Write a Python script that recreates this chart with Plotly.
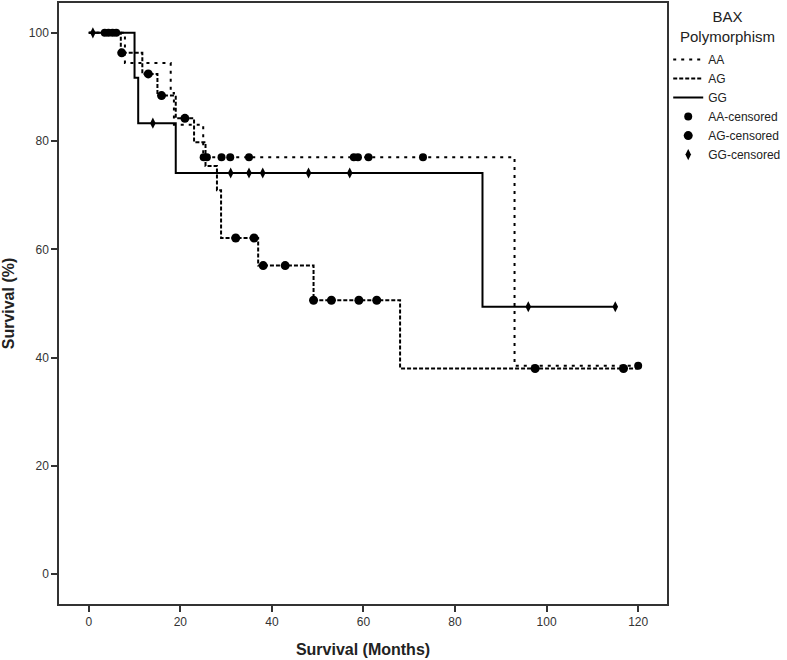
import plotly.graph_objects as go

# Step-function data (months, survival %)
aa_t = [0, 7.9, 17.9, 18.6, 25.0, 93, 120]
aa_s = [100, 94.4, 88.9, 83.0, 77.0, 38.5, 38.5]

ag_t = [0, 7, 11.7, 15, 19, 23, 25.5, 28, 28.9, 37, 49.1, 68, 120]
ag_s = [100, 96.3, 92.4, 88.4, 84.2, 79.8, 75.4, 70.9, 62.1, 57.0, 50.6, 38.0, 38.0]

gg_t = [0, 10, 10.8, 19, 86, 115]
gg_s = [100, 91.7, 83.3, 74.1, 49.4, 49.4]

# Censored times
aa_cens = [3.5, 4.3, 5.2, 6.0, 25.1, 25.8, 29.0, 30.9, 35.0, 57.9, 58.8, 61.1, 73, 120]
ag_cens = [7.2, 13, 15.9, 21, 32.1, 36.1, 38.1, 42.9, 49.1, 53, 59, 62.9, 97.5, 116.8]
gg_cens = [0.9, 14, 31, 35, 38, 48, 57, 96, 115]

x_ticks = [0, 20, 40, 60, 80, 100, 120]
y_ticks = [0, 20, 40, 60, 80, 100]


def surv_at(ts, ss, t):
    v = ss[0]
    for ti, si in zip(ts, ss):
        if ti <= t:
            v = si
    return v


FONT = "Arial, Liberation Sans, sans-serif"
fig = go.Figure()

fig.add_trace(go.Scatter(x=aa_t, y=aa_s, mode="lines", name="AA",
                         line=dict(color="black", width=2, dash="3px,5px", shape="hv")))
fig.add_trace(go.Scatter(x=ag_t, y=ag_s, mode="lines", name="AG",
                         line=dict(color="black", width=2, dash="4px,2px", shape="hv")))
fig.add_trace(go.Scatter(x=gg_t, y=gg_s, mode="lines", name="GG",
                         line=dict(color="black", width=2, shape="hv")))

fig.add_trace(go.Scatter(x=aa_cens, y=[surv_at(aa_t, aa_s, t) for t in aa_cens],
                         mode="markers", name="AA-censored",
                         marker=dict(symbol="circle", size=8, color="black")))
fig.add_trace(go.Scatter(x=ag_cens, y=[surv_at(ag_t, ag_s, t) for t in ag_cens],
                         mode="markers", name="AG-censored",
                         marker=dict(symbol="circle", size=9, color="black")))
fig.add_trace(go.Scatter(x=gg_cens, y=[surv_at(gg_t, gg_s, t) for t in gg_cens],
                         mode="markers", name="GG-censored",
                         marker=dict(symbol="diamond-tall", size=8, color="black")))

axis_common = dict(showline=True, linecolor="#333", linewidth=1.5, mirror=True,
                   ticks="outside", ticklen=6, tickcolor="#333", tickwidth=1.5,
                   showgrid=False, zeroline=False,
                   tickfont=dict(family=FONT, size=12, color="#333"))

fig.update_layout(
    width=787, height=660,
    margin=dict(l=59, r=114, t=1, b=56),
    plot_bgcolor="white", paper_bgcolor="white",
    font=dict(family=FONT, color="#222"),
    xaxis=dict(range=[-6.5, 126.3], tickvals=x_ticks,
               title=dict(text="<b>Survival (Months)</b>", font=dict(size=16, family=FONT, color="#222"), standoff=16),
               **axis_common),
    yaxis=dict(range=[-5.5, 105.5], tickvals=y_ticks,
               title=dict(text="<b>Survival (%)</b>", font=dict(size=16, family=FONT, color="#222"), standoff=12),
               **axis_common),
    legend=dict(x=1.002, xanchor="left", y=0.93, yanchor="top",
                font=dict(size=12, family=FONT, color="#222"),
                itemwidth=30, tracegroupgap=0, bgcolor="rgba(0,0,0,0)"),
    showlegend=True,
    annotations=[dict(text="BAX<br>Polymorphism", xref="paper", yref="paper",
                      x=1.1, y=0.995, xanchor="center", yanchor="top", align="center",
                      showarrow=False, font=dict(size=15, family=FONT, color="#222"))],
)

fig.write_html("out.html", config={"displayModeBar": False},
               post_script="document.body.style.margin='0px';")
